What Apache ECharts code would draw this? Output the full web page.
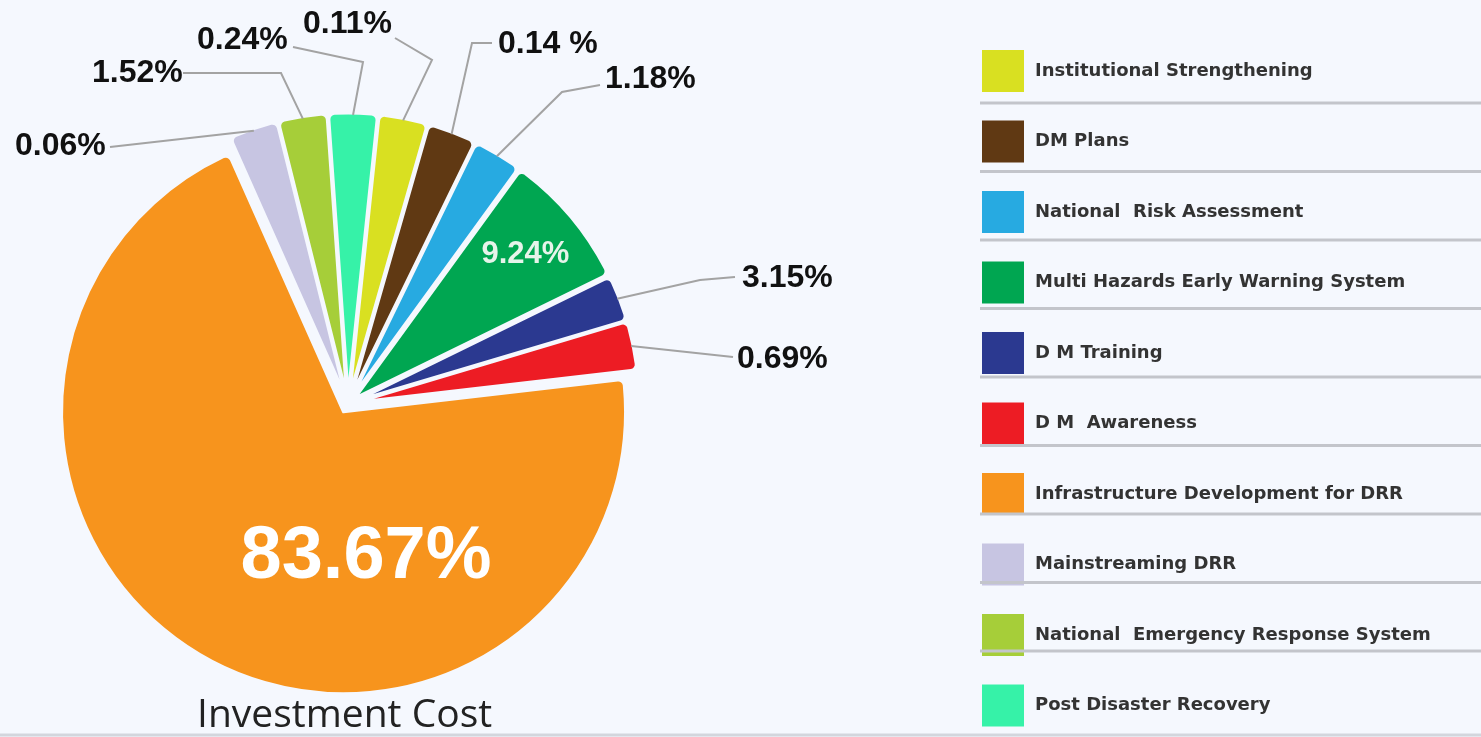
<!DOCTYPE html>
<html>
<head>
<meta charset="utf-8">
<script src="https://cdn.jsdelivr.net/npm/echarts@6/dist/echarts.min.js"></script>
<style>
  html, body { margin: 0; padding: 0; background: #f5f8fe; }
  #chart { width: 1481px; height: 737px; }
</style>
</head>
<body>
<div id="chart"></div>
<script>
// slices in the order they are drawn, clockwise from the top-left
var categories = [
  "Mainstreaming DRR",
  "National  Emergency Response System",
  "Post Disaster Recovery",
  "Institutional Strengthening",
  "DM Plans",
  "National  Risk Assessment",
  "Multi Hazards Early Warning System",
  "D M Training",
  "D M  Awareness",
  "Infrastructure Development for DRR"
];
var shares = [0.06, 1.52, 0.24, 0.11, 0.14, 1.18, 9.24, 3.15, 0.69, 83.67];
var shareLabels = ["0.06%", "1.52%", "0.24%", "0.11%", "0.14 %", "1.18%", "9.24%", "3.15%", "0.69%", "83.67%"];
var colors = ["#c7c5e2", "#a6ce39", "#36f2a8", "#d9e021", "#603913", "#27aae1", "#00a651", "#2b3990", "#ed1c24", "#f7941d"];

// order shown in the legend
var legendOrder = [
  "Institutional Strengthening",
  "DM Plans",
  "National  Risk Assessment",
  "Multi Hazards Early Warning System",
  "D M Training",
  "D M  Awareness",
  "Infrastructure Development for DRR",
  "Mainstreaming DRR",
  "National  Emergency Response System",
  "Post Disaster Recovery"
];

// where each label text sits (left / middle), plus the bend and end of its leader line
var labelSpots = [
  { x: 15, y: 146, end: [110, 147] },
  { x: 92, y: 73, bend: [281, 73], end: [183, 73] },
  { x: 197, y: 40, bend: [363, 62], end: [293, 47] },
  { x: 303, y: 24, bend: [432, 60], end: [395, 38] },
  { x: 498, y: 44, bend: [472, 43], end: [492, 43] },
  { x: 605, y: 79, bend: [562, 92], end: [600, 85] },
  { inside: 0.79, size: 31, color: "#e6f4ea" },
  { x: 742, y: 278, bend: [700, 280], end: [735, 277] },
  { x: 737, y: 359, end: [733, 357] },
  { x: 366, y: 558, size: 74, color: "#fff", centered: true }
];

var OFFSET = 9;

var pieData = categories.map(function (name, i) {
  return {
    name: name,
    value: shares[i],
    selected: true,
    itemStyle: { color: colors[i] }
  };
});

// separators between the legend rows
var graphics = [];
for (var i = 0; i < legendOrder.length - 1; i++) {
  graphics.push({
    type: "line",
    z: 100,
    shape: { x1: 980, y1: 103 + i * 68.5, x2: 1481, y2: 103 + i * 68.5 },
    style: { stroke: "#c3c5cb", lineWidth: 3 }
  });
}
graphics.push({
  type: "line",
  z: 100,
  shape: { x1: 0, y1: 735, x2: 1481, y2: 735 },
  style: { stroke: "#d3d6dd", lineWidth: 3 }
});

var chart = echarts.init(document.getElementById("chart"));
chart.setOption({
  animation: false,
  backgroundColor: "#f5f8fe",
  title: {
    text: "Investment Cost",
    left: 192,
    top: 691,
    textStyle: { fontFamily: "'Open Sans', sans-serif", fontSize: 39, fontWeight: "normal", color: "#222" }
  },
  legend: {
    data: legendOrder,
    orient: "vertical",
    left: 975,
    top: 43,
    icon: "rect",
    itemWidth: 44,
    itemHeight: 44,
    itemGap: 24.5,
    selectedMode: false,
    textStyle: { fontFamily: "'DejaVu Sans', sans-serif", fontSize: 18, fontWeight: "bold", color: "#333", padding: [0, 0, 0, 5] }
  },
  series: [
    {
      type: "pie",
      center: [348, 404],
      radius: 282,
      startAngle: 114,
      minAngle: 10,
      selectedMode: "multiple",
      selectedOffset: OFFSET,
      data: pieData,
      itemStyle: { borderColor: "#f5f8fe", borderWidth: 3, borderRadius: [0, 6] },
      label: { show: false },
      labelLine: { show: false },
      emphasis: { disabled: true }
    }
  ]
});

// percentage labels and leader lines, anchored on the slices the pie laid out
var pieLayout = chart.getModel().getSeriesByIndex(0).getData();
shareLabels.forEach(function (text, i) {
  var L = pieLayout.getItemLayout(i);
  var s = labelSpots[i];
  var mid = (L.startAngle + L.endAngle) / 2;
  var font = "bold " + (s.size || 32) + "px 'Liberation Sans', Arial, sans-serif";
  if (s.inside) {
    var rr = L.r * s.inside + OFFSET;
    graphics.push({
      type: "text", z: 50,
      x: L.cx + rr * Math.cos(mid), y: L.cy + rr * Math.sin(mid),
      style: { text: text, font: font, fill: s.color, align: "center", verticalAlign: "middle" }
    });
    return;
  }
  if (s.centered) {
    graphics.push({
      type: "text", z: 50, x: s.x, y: s.y,
      style: { text: text, font: font, fill: s.color, align: "center", verticalAlign: "middle" }
    });
    return;
  }
  var ar = L.r + OFFSET - 2;
  var pts = [[L.cx + ar * Math.cos(mid), L.cy + ar * Math.sin(mid)]];
  if (s.bend) pts.push(s.bend);
  pts.push(s.end);
  graphics.push({
    type: "polyline", z: 40,
    shape: { points: pts },
    style: { stroke: "#a3a3a3", lineWidth: 2, fill: null }
  });
  graphics.push({
    type: "text", z: 50, x: s.x, y: s.y,
    style: { text: text, font: font, fill: "#111", align: "left", verticalAlign: "middle" }
  });
});

chart.setOption({ graphic: graphics });
</script>
</body>
</html>
